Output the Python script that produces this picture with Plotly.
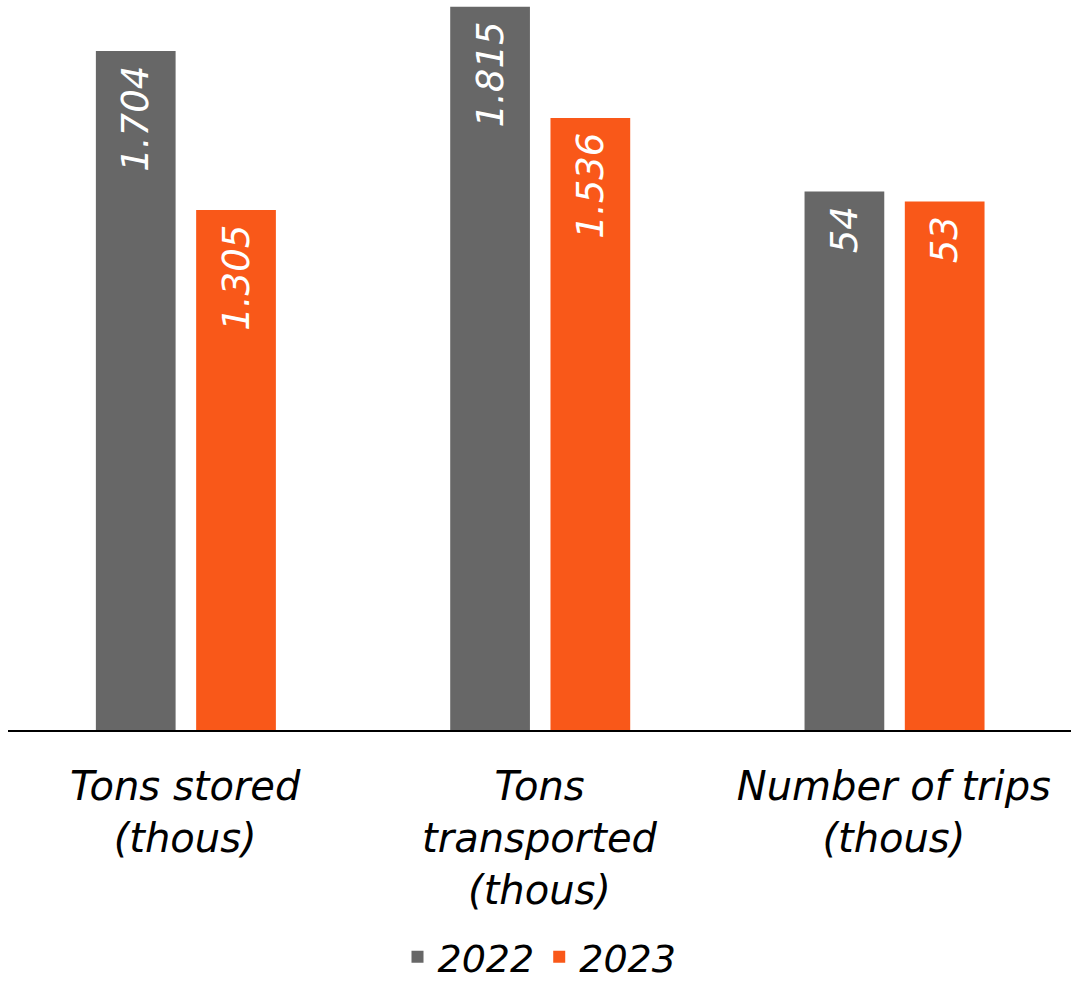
import plotly.graph_objects as go

categories = ["Tons stored<br>(thous)", "Tons<br>transported<br>(thous)", "Number of trips<br>(thous)"]
series_names = ["2022", "2023"]
tons_2022 = [1.704, 1.815]
tons_2023 = [1.305, 1.536]
trips_2022 = [54]
trips_2023 = [53]
tons_labels_2022 = ["1.704", "1.815"]
tons_labels_2023 = ["1.305", "1.536"]
trips_labels_2022 = ["54"]
trips_labels_2023 = ["53"]

GRAY = "#676767"
ORANGE = "#F95819"
FONT = "DejaVu Sans"
PAD = "\u00a0"

W, OFF1, OFF2 = 0.225, -0.252, 0.031

def bar(x, y, labels, name, color, offset, yaxis, showlegend):
    return go.Bar(
        x=x, y=y, name=name, yaxis=yaxis,
        text=[l + PAD for l in labels],
        textposition="inside", insidetextanchor="end", textangle=-90,
        textfont=dict(family=FONT, size=37, color="white", style="italic"),
        marker=dict(color=color, line=dict(width=0)),
        width=W, offset=offset, legendgroup=name, showlegend=showlegend,
        cliponaxis=False, hoverinfo="skip",
    )

fig = go.Figure()
fig.add_trace(bar(categories[:2], tons_2022, tons_labels_2022, series_names[0], GRAY, OFF1, "y", True))
fig.add_trace(bar(categories[:2], tons_2023, tons_labels_2023, series_names[1], ORANGE, OFF2, "y", True))
fig.add_trace(bar(categories[2:], trips_2022, trips_labels_2022, series_names[0], GRAY, OFF1, "y2", False))
fig.add_trace(bar(categories[2:], trips_2023, trips_labels_2023, series_names[1], ORANGE, OFF2, "y2", False))

fig.update_layout(
    width=1071, height=982,
    margin=dict(l=8, r=0, t=0, b=252, autoexpand=False),
    paper_bgcolor="white", plot_bgcolor="white",
    barmode="overlay",
    font=dict(family=FONT, color="black"),
    xaxis=dict(
        type="category", categoryorder="array", categoryarray=categories,
        showline=True, linecolor="black", linewidth=1.5,
        showgrid=False, ticks="", ticklabelstandoff=20, automargin=False,
        tickfont=dict(family=FONT, size=40, color="black", style="italic"),
    ),
    yaxis=dict(range=[0, 1.832], visible=False, showgrid=False),
    yaxis2=dict(range=[0, 73.2], visible=False, showgrid=False, overlaying="y", side="right"),
    legend=dict(
        orientation="h", x=0.5, xanchor="center", y=-0.311, yref="paper", yanchor="middle",
        font=dict(family=FONT, size=38, color="black", style="italic"),
        traceorder="normal",
    ),
)

fig.write_html("out.html")
